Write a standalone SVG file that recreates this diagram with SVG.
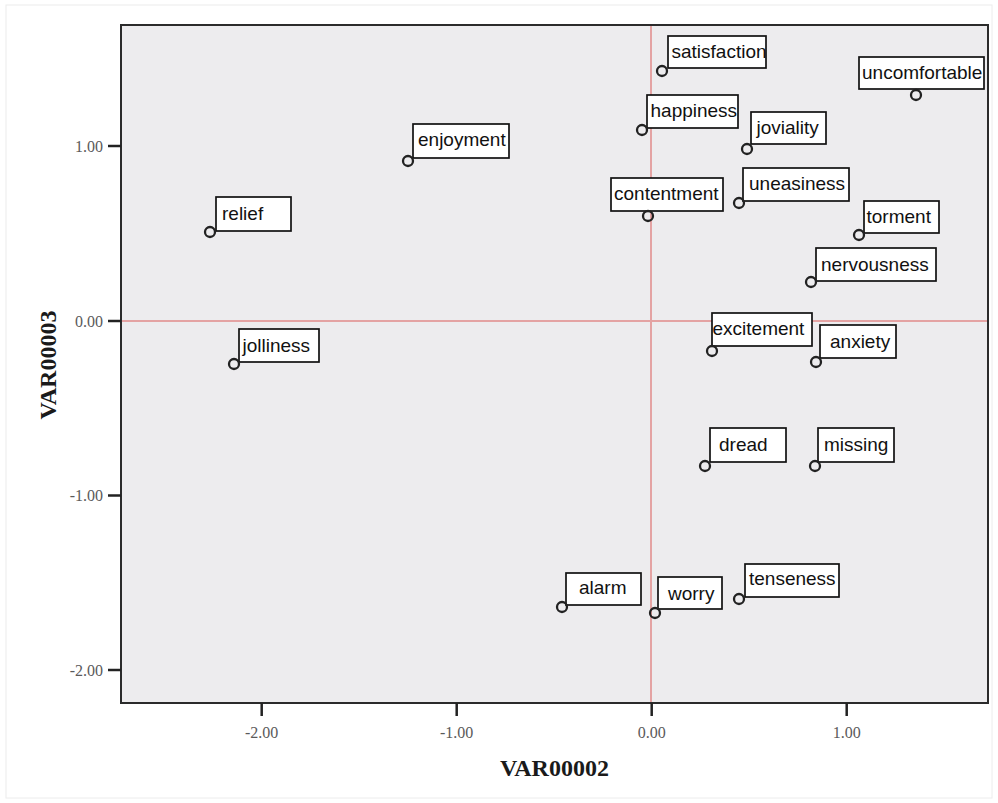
<svg xmlns="http://www.w3.org/2000/svg" width="998" height="803" viewBox="0 0 998 803">
<style>
.frame{fill:#edecee;stroke:#2b2b2b;stroke-width:2}
.ref{stroke:#e4a3a3;stroke-width:2;fill:none}
.tick{stroke:#222;stroke-width:2.5}
.tl{font-family:"Liberation Serif","Times New Roman",serif;font-size:16px;fill:#5a5a5a}
.ax{font-family:"Liberation Serif","Times New Roman",serif;font-size:24px;font-weight:bold;fill:#1a1a1a;text-anchor:middle}
.pt{fill:none;stroke:#222;stroke-width:2.3}
.box{fill:#fff;stroke:#111;stroke-width:1.7}
.lb{font-family:"Liberation Sans",Arial,sans-serif;font-size:19px;fill:#111}
</style>
<rect x="0" y="0" width="998" height="803" fill="#fff"/>
<rect x="6" y="5" width="986" height="793" fill="none" stroke="#ececec" stroke-width="1"/>
<g id="plot">
<rect class="frame" x="121" y="25" width="867" height="678"/>
<line class="ref" x1="122" y1="321" x2="987" y2="321"/>
<line class="ref" x1="651" y1="26" x2="651" y2="702"/>
</g>
<g id="yaxis">
<line class="tick" x1="108" y1="146" x2="121" y2="146"/>
<line class="tick" x1="108" y1="321" x2="121" y2="321"/>
<line class="tick" x1="108" y1="495.5" x2="121" y2="495.5"/>
<line class="tick" x1="108" y1="670" x2="121" y2="670"/>
<text class="tl" x="103" y="151.5" text-anchor="end">1.00</text>
<text class="tl" x="103" y="326.5" text-anchor="end">0.00</text>
<text class="tl" x="103" y="501" text-anchor="end">-1.00</text>
<text class="tl" x="103" y="675.5" text-anchor="end">-2.00</text>
<text class="ax" transform="translate(56,365) rotate(-90)">VAR00003</text>
</g>
<g id="xaxis">
<line class="tick" x1="261.7" y1="703" x2="261.7" y2="716"/>
<line class="tick" x1="456.7" y1="703" x2="456.7" y2="716"/>
<line class="tick" x1="651.7" y1="703" x2="651.7" y2="716"/>
<line class="tick" x1="846.7" y1="703" x2="846.7" y2="716"/>
<text class="tl" x="261.7" y="738" text-anchor="middle">-2.00</text>
<text class="tl" x="456.7" y="738" text-anchor="middle">-1.00</text>
<text class="tl" x="651.7" y="738" text-anchor="middle">0.00</text>
<text class="tl" x="846.7" y="738" text-anchor="middle">1.00</text>
<text class="ax" x="554.5" y="776">VAR00002</text>
</g>
<g id="connectors"></g>
<g id="satisfaction"><rect class="box" x="668" y="36" width="98" height="32"/><text class="lb" x="671.5" y="58">satisfaction</text><circle class="pt" cx="662" cy="71" r="5"/></g>
<g id="uncomfortable"><rect class="box" x="859" y="57" width="125" height="32"/><text class="lb" x="862" y="79">uncomfortable</text><circle class="pt" cx="916" cy="95" r="5"/></g>
<g id="happiness"><rect class="box" x="647" y="95" width="91" height="33"/><text class="lb" x="650.5" y="117">happiness</text><circle class="pt" cx="642" cy="130" r="5"/></g>
<g id="joviality"><rect class="box" x="751" y="112" width="75" height="32"/><text class="lb" x="756.5" y="134">joviality</text><circle class="pt" cx="747" cy="149" r="5"/></g>
<g id="contentment"><rect class="box" x="611" y="178" width="112" height="33"/><text class="lb" x="614" y="200">contentment</text><circle class="pt" cx="648" cy="216" r="5"/></g>
<g id="uneasiness"><rect class="box" x="743" y="168" width="106" height="33"/><text class="lb" x="749" y="190">uneasiness</text><circle class="pt" cx="739" cy="203" r="5"/></g>
<g id="torment"><rect class="box" x="864" y="201" width="75" height="32"/><text class="lb" x="866.5" y="223">torment</text><circle class="pt" cx="859" cy="235" r="5"/></g>
<g id="nervousness"><rect class="box" x="816" y="248" width="120" height="33"/><text class="lb" x="821" y="271">nervousness</text><circle class="pt" cx="811" cy="282" r="5"/></g>
<g id="enjoyment"><rect class="box" x="413" y="124" width="96" height="34"/><text class="lb" x="418" y="146">enjoyment</text><circle class="pt" cx="408" cy="161" r="5"/></g>
<g id="relief"><rect class="box" x="216" y="197" width="75" height="34"/><text class="lb" x="222" y="220">relief</text><circle class="pt" cx="210" cy="232" r="5"/></g>
<g id="jolliness"><rect class="box" x="239" y="329" width="80" height="33"/><text class="lb" x="242.5" y="352">jolliness</text><circle class="pt" cx="234" cy="364" r="5"/></g>
<g id="excitement"><rect class="box" x="712" y="313" width="100" height="33"/><text class="lb" x="712.5" y="335">excitement</text><circle class="pt" cx="712" cy="351" r="5"/></g>
<g id="anxiety"><rect class="box" x="820" y="325" width="76" height="33"/><text class="lb" x="830" y="348">anxiety</text><circle class="pt" cx="816" cy="362" r="5"/></g>
<g id="dread"><rect class="box" x="710" y="428" width="76" height="34"/><text class="lb" x="719" y="451">dread</text><circle class="pt" cx="705" cy="466" r="5"/></g>
<g id="missing"><rect class="box" x="818" y="428" width="76" height="34"/><text class="lb" x="824" y="451">missing</text><circle class="pt" cx="815" cy="466" r="5"/></g>
<g id="alarm"><rect class="box" x="566" y="573" width="75" height="32"/><text class="lb" x="579" y="594">alarm</text><circle class="pt" cx="562" cy="607" r="5"/></g>
<g id="worry"><rect class="box" x="658" y="577" width="64" height="32"/><text class="lb" x="668" y="600">worry</text><circle class="pt" cx="655" cy="613" r="5"/></g>
<g id="tenseness"><rect class="box" x="745" y="564" width="94" height="33"/><text class="lb" x="749" y="585">tenseness</text><circle class="pt" cx="739" cy="599" r="5"/></g>
</svg>
